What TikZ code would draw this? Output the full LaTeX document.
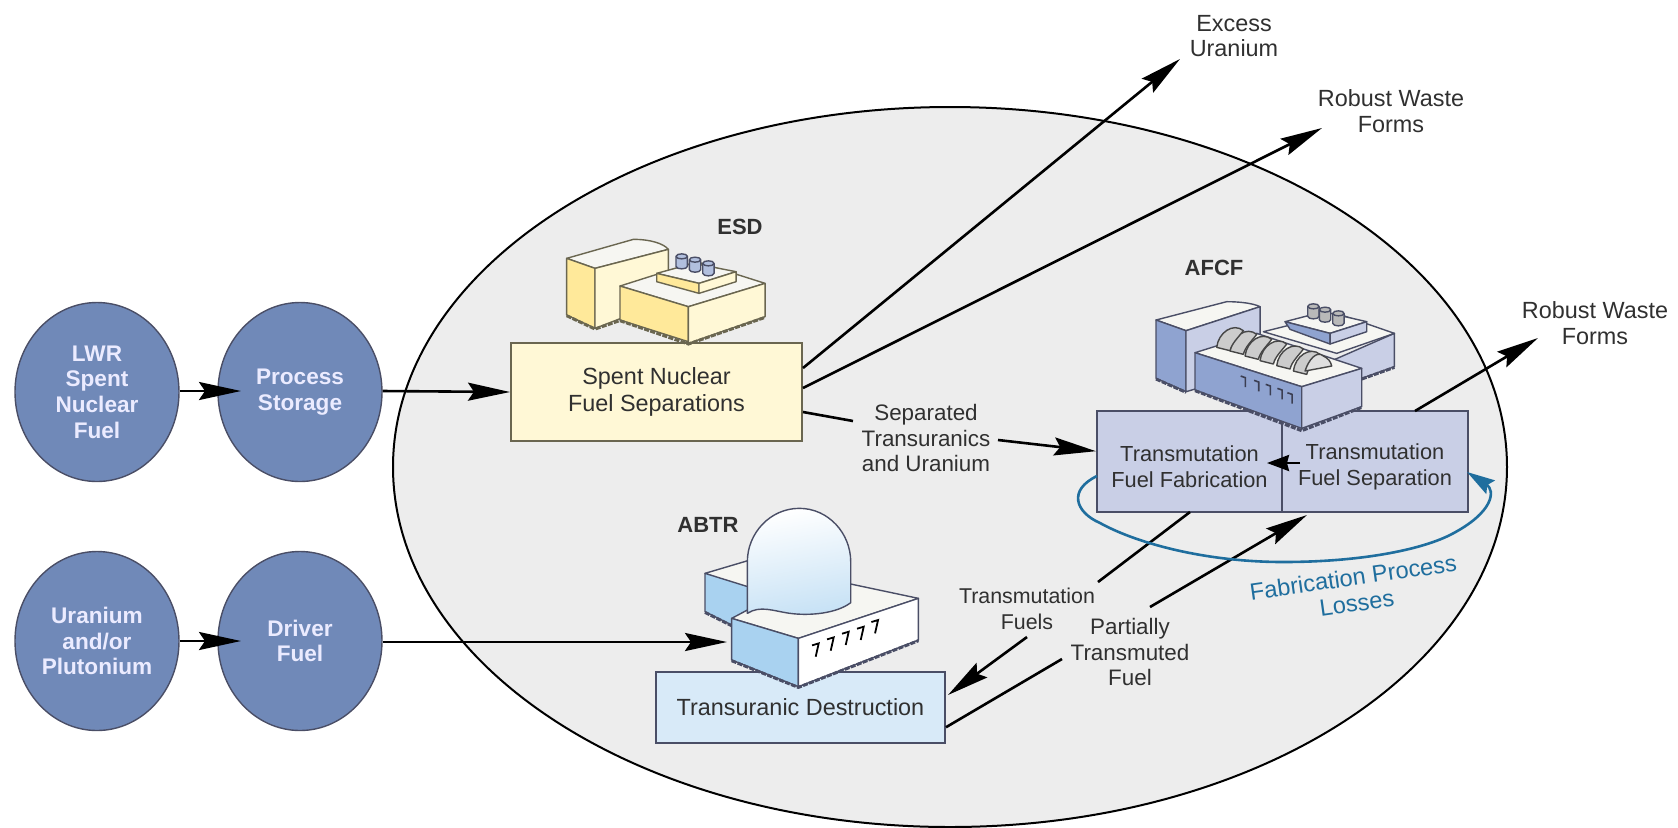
\documentclass[tikz,border=0pt]{standalone}
\usepackage{fontspec}
\setmainfont{Liberation Sans}
\usetikzlibrary{shapes.geometric,arrows.meta,calc}
\definecolor{discblue}{HTML}{7089B8}
\definecolor{txt}{HTML}{303030}
\definecolor{creambox}{HTML}{FFF8D6}
\definecolor{yellowface}{HTML}{FFE99A}
\definecolor{lilacbox}{HTML}{C9CFE6}
\definecolor{lilacface}{HTML}{8FA3D0}
\definecolor{skybox}{HTML}{D8EAF8}
\definecolor{skyface}{HTML}{A9D2F0}
\definecolor{lossblue}{HTML}{1F6E9E}
\definecolor{edgeol}{HTML}{6A6650}
\definecolor{edgebl}{HTML}{4A4E66}
\definecolor{topface}{HTML}{F6F6F2}
\tikzset{
  disc/.style={ellipse,draw=edgebl,line width=0.7pt,fill=discblue,inner sep=0pt,minimum width=82pt,minimum height=89.5pt,text=white!92!blue,align=center,font=\fontsize{11.3}{12.8}\selectfont\bfseries},
  procbox/.style={rectangle,line width=1pt,inner sep=0pt,align=center,text=txt,font=\fontsize{11.7}{13.3}\selectfont},
  fabbox/.style={procbox,draw=edgebl,fill=lilacbox,minimum height=50.5pt,font=\fontsize{10.9}{13}\selectfont},
  lbl/.style={inner sep=0pt,align=center,text=txt,font=\fontsize{11.2}{12.8}\selectfont},
  tag/.style={inner sep=0pt,text=txt,font=\fontsize{11}{13}\selectfont\bfseries},
  flow/.style={line width=1.3pt,draw=black},
  flowhead/.style={flow,-{Stealth[length=21pt,width=9pt,inset=3pt]}},
  shorthead/.style={flow,-{Stealth[length=11pt,width=8pt,inset=1pt]}},
  base/.style={line width=1.5pt,dash pattern=on 2.5pt off 0.7pt},
  face/.style={line width=0.7pt,line join=round},
}
\newcommand{\stack}[3]{\draw[face,draw=edgebl,fill=#3] (#1-17,#2-18) -- (#1-17,#2+12) .. controls (#1-17,#2+22) and (#1+17,#2+22) .. (#1+17,#2+12) -- (#1+17,#2-18) .. controls (#1+17,#2-28) and (#1-17,#2-28) .. cycle;
\draw[face,draw=edgebl] (#1-17,#2-18) .. controls (#1-17,#2-8) and (#1+17,#2-8) .. (#1+17,#2-18);}
\begin{document}
\begin{tikzpicture}[x=0.5pt,y=-0.5pt]
\useasboundingbox (0,0) rectangle (1678,827);
\node[ellipse,draw=black,line width=1pt,fill=black!7,inner sep=0pt,minimum width=557pt,minimum height=360pt] (domain) at (950,467) {};

% disks
\node[disc] (lwr) at (97,392) {LWR\\Spent\\Nuclear\\Fuel};
\node[disc] (storage) at (300,392) {Process\\Storage};
\node[disc] (uran) at (97,641) {Uranium\\and/or\\Plutonium};
\node[disc] (driver) at (300,641) {Driver\\Fuel};

% boxes
\node[procbox,draw=edgeol,fill=creambox,minimum width=145.5pt,minimum height=49pt] (spent) at (656.5,392) {Spent Nuclear\\Fuel Separations};
\node[fabbox,minimum width=92.5pt] (fab) at (1189.5,461.5) {\rule{0pt}{13pt}Transmutation\\Fuel Fabrication};
\node[fabbox,minimum width=93pt] (sep) at (1375,461.5) {\rule{0pt}{13pt}Transmutation\\Fuel Separation};
\node[procbox,draw=edgebl,fill=skybox,minimum width=144.5pt,minimum height=35.5pt] (trans) at (800.5,707.5) {Transuranic Destruction};

% ESD building
\begin{scope}[shift={(500,200)},x=0.1667pt,y=-0.1667pt]
\draw[face,draw=edgeol,fill=topface] (200,175) -- (400,118) .. controls (450,118) and (490,130) .. (505,148) -- (285,205) -- cycle;
\draw[face,draw=edgeol,fill=yellowface] (200,175) -- (285,205) -- (285,385) -- (200,345) -- cycle;
\draw[face,draw=edgeol,fill=creambox] (285,205) -- (505,148) -- (505,300) -- (285,385) -- cycle;
\draw[base,draw=edgeol] (200,347) -- (285,387) -- (370,358);
\draw[face,draw=edgeol,fill=topface] (360,258) -- (590,185) -- (795,250) -- (565,320) -- cycle;
\draw[face,draw=edgeol,fill=yellowface] (360,258) -- (565,320) -- (565,425) -- (360,360) -- cycle;
\draw[face,draw=edgeol,fill=creambox] (565,320) -- (795,250) -- (795,350) -- (565,430) -- cycle;
\draw[base,draw=edgeol] (360,362) -- (565,432) -- (795,352);
\draw[face,draw=edgeol,fill=topface] (470,220) -- (580,190) -- (708,215) -- (597,250) -- cycle;
\draw[face,draw=edgeol,fill=yellowface] (470,220) -- (597,250) -- (597,280) -- (470,245) -- cycle;
\draw[face,draw=edgeol,fill=creambox] (597,250) -- (708,215) -- (708,245) -- (597,280) -- cycle;
\stack{545}{187}{lilacface!70}
\stack{585}{197}{lilacface!70}
\stack{625}{208}{lilacface!70}
\end{scope}

% AFCF building
\begin{scope}[shift={(1060,270)},x=0.1667pt,y=-0.1667pt]
\draw[face,draw=edgebl,fill=topface] (288,150) -- (500,95) .. controls (540,95) and (580,100) .. (600,110) -- (378,182) -- cycle;
\draw[face,draw=edgebl,fill=lilacface] (288,150) -- (378,182) -- (378,365) -- (288,325) -- cycle;
\draw[face,draw=edgebl,fill=lilacbox] (378,182) -- (600,110) -- (600,300) -- (378,365) -- cycle;
\draw[base,draw=edgebl] (288,327) -- (378,367);
% rear right block
\draw[face,draw=edgebl,fill=lilacbox] (820,270) -- (1003,190) -- (1003,290) -- (905,325) -- cycle;
\draw[face,draw=edgebl,fill=topface] (610,185) -- (830,130) -- (1003,190) -- (830,250) -- cycle;
\draw[base,draw=edgebl] (905,327) -- (1003,292);
\draw[face,draw=edgebl,fill=topface] (675,155) -- (790,125) -- (920,155) -- (810,190) -- cycle;
\draw[face,draw=edgebl,fill=lilacface] (675,155) -- (810,190) -- (810,222) -- (690,178) -- cycle;
\draw[face,draw=edgebl,fill=lilacbox] (810,190) -- (920,155) -- (920,185) -- (810,222) -- cycle;
\stack{760}{127}{gray!55}
\stack{795}{137}{gray!55}
\stack{835}{148}{gray!55}
% front block
\draw[face,draw=edgebl,fill=topface] (405,248) -- (590,190) -- (905,295) -- (725,350) -- cycle;
\draw[face,draw=edgebl,fill=lilacface] (405,248) -- (725,350) -- (725,475) -- (405,360) -- cycle;
\draw[face,draw=edgebl,fill=lilacbox] (725,350) -- (905,295) -- (905,410) -- (725,475) -- cycle;
\draw[base,draw=edgebl] (405,362) -- (725,482) -- (905,412);
% barrel vault ribs
\foreach \rx/\ry in {735/303,685/287,635/272,590/258,545/243,505/232}{
  \draw[face,draw=gray!55!black,fill=gray!40] (\rx-35,\ry) .. controls (\rx-30,\ry-45) and (\rx+15,\ry-75) .. (\rx+45,\ry-50) .. controls (\rx+30,\ry-30) and (\rx+10,\ry-12) .. (\rx+5,\ry+10) -- cycle;
}
\draw[face,draw=gray!55!black,fill=gray!25] (735,303) .. controls (745,270) and (770,240) .. (790,258) .. controls (805,265) and (812,275) .. (815,288) -- cycle;
\foreach \mx/\my in {550/325,590/338,625/350,660/362,690/375}{
  \draw[line width=0.8pt,draw=edgebl!80!black] (\mx-8,\my-7) -- (\mx+6,\my-2) -- (\mx+6,\my+26);
}
\end{scope}

% ABTR building
\begin{scope}[shift={(640,510)},x=0.1667pt,y=-0.1667pt]
\draw[face,draw=edgebl,fill=topface] (195,190) -- (330,150) -- (330,240) -- cycle;
\draw[face,draw=edgebl,fill=skyface] (195,190) -- (330,232) -- (330,320) -- (275,345) -- (195,305) -- cycle;
\draw[base,draw=edgebl] (195,307) -- (275,347);
\draw[face,draw=edgebl,fill=topface] (275,325) -- (322,300) -- (632,222) -- (835,265) -- (475,385) -- cycle;
\shade[top color=white,bottom color=skyface!65,shading angle=10] (322,310) -- (322,155) .. controls (322,70) and (390,-5) .. (478,-5) .. controls (565,-5) and (632,70) .. (632,155) -- (632,278) .. controls (590,310) and (510,318) .. (450,310) .. controls (400,303) and (360,285) .. (322,310) -- cycle;
\draw[face,draw=edgebl] (322,310) -- (322,155) .. controls (322,70) and (390,-5) .. (478,-5) .. controls (565,-5) and (632,70) .. (632,155) -- (632,278) .. controls (590,310) and (510,318) .. (450,310) .. controls (400,303) and (360,285) .. (322,310) -- cycle;
\draw[face,draw=edgebl,fill=skyface] (275,325) -- (475,385) -- (475,530) -- (275,450) -- cycle;
\draw[face,draw=edgebl,fill=white] (475,385) -- (835,265) -- (835,390) -- (475,530) -- cycle;
\draw[base,draw=edgebl] (275,452) -- (475,532) -- (835,392);
\foreach \mx/\my in {530/420,575/402,620/385,665/370,708/350}{
  \draw[line width=0.9pt,draw=black] (\mx-14,\my-14) -- (\mx+6,\my-20) -- (\mx-3,\my+20);
}
\end{scope}

% tags and free labels
\node[tag] (esd) at (740,227) {ESD};
\node[tag] (afcf) at (1214,268) {AFCF};
\node[tag] (abtr) at (708,525) {ABTR};
\node[lbl,font=\fontsize{11.7}{12.8}\selectfont] (excess) at (1234,36) {Excess\\Uranium};
\node[lbl,font=\fontsize{11.7}{12.8}\selectfont] (robusta) at (1391,111) {Robust Waste\\Forms};
\node[lbl,font=\fontsize{11.7}{12.8}\selectfont] (robustb) at (1595,323) {Robust Waste\\Forms};
\node[lbl] (septru) at (926,438) {Separated\\Transuranics\\and Uranium};
\node[lbl,font=\fontsize{10.7}{13}\selectfont] (tfuels) at (1027,609) {Transmutation\\Fuels};
\node[lbl] (ptf) at (1130,652) {Partially\\Transmuted\\Fuel};
\node[lbl,text=lossblue,rotate=8,font=\fontsize{11.8}{13}\selectfont] (losses) at (1355,590) {Fabrication Process\\Losses};

% free ends
\coordinate (storagetip) at (241,391);
\coordinate (drivertip) at (241,641);
\coordinate (reactortip) at (727,642);
\coordinate (excesstip) at (1180,59);
\coordinate (robustatip) at (1322,128);
\coordinate (robustbtail) at (1415,411);
\coordinate (robustbtip) at (1538,338);
\coordinate (septruend) at (853,421);
\coordinate (septrutail) at (998,440);
\coordinate (feedtail) at (1300,463);
\coordinate (feedtip) at (1267,463);
\coordinate (fabbottom) at (1190,512);
\coordinate (tfa) at (1098,582);
\coordinate (tfb) at (1027,637);
\coordinate (tftip) at (948,695);
\coordinate (ptfa) at (1062,659);
\coordinate (ptfb) at (1150,607);
\coordinate (ptftip) at (1307,515);

% connectors
\draw[flowhead] (lwr.east) ++(0,-1) -- (storagetip);
\draw[flowhead] (uran.east) -- (drivertip);
\draw[flowhead] (storage.east) ++(0,-1) -- (spent.west);
\draw[flowhead] (driver.east) ++(0,1) -- (reactortip);
\draw[flowhead] ($(spent.north east)!0.26!(spent.south east)$) -- (excesstip);
\draw[flowhead] ($(spent.north east)!0.46!(spent.south east)$) -- (robustatip);
\draw[flow] ($(spent.north east)!0.70!(spent.south east)$) -- (septruend);
\draw[flowhead] (septrutail) -- ($(fab.north west)!0.40!(fab.south west)$);
\draw[flowhead] (robustbtail) -- (robustbtip);
\draw[shorthead] (feedtail) -- (feedtip);
\draw[flow] (fabbottom) -- (tfa);
\draw[flowhead] (tfb) -- (tftip);
\draw[flow] ($(trans.north east)!0.77!(trans.south east)$) -- (ptfa);
\draw[flowhead] (ptfb) -- (ptftip);

% loss loop
\coordinate (lossstart) at (1097,476);
\coordinate (losstip) at (1467,472);
\draw[lossblue,line width=1.3pt,-{Stealth[length=14pt,width=8pt,inset=2pt]}] (lossstart) .. controls (1068,490) and (1075,512) .. (1100,523) .. controls (1140,545) and (1210,562) .. (1283,562) .. controls (1360,562) and (1420,550) .. (1450,535) .. controls (1495,512) and (1495,490) .. (losstip);
\end{tikzpicture}
\end{document}
